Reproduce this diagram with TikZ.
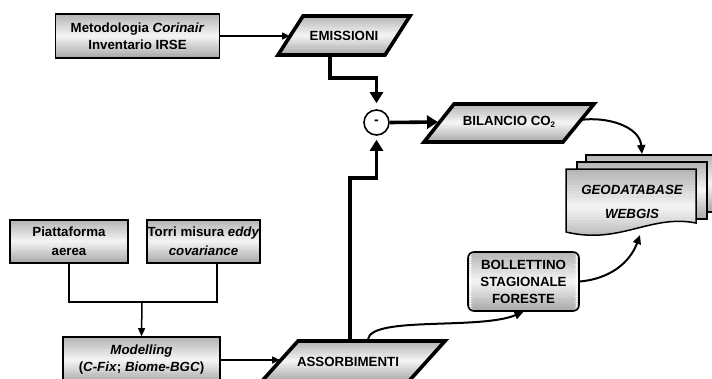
\documentclass[tikz,border=0pt]{standalone}
\usepackage{fontspec}
\setmainfont{Liberation Sans}
\usetikzlibrary{arrows.meta,calc}
\begin{document}
\begin{tikzpicture}[x=1pt,y=-1pt,
  grad/.style={path picture={
    \foreach \i in {0,...,23}{
      \pgfmathsetmacro{\tt}{(\i+0.5)/24}
      \pgfmathsetmacro{\pp}{\tt<0.5 ? 30-26*\tt/0.5 : 4+30*(\tt-0.5)/0.5}
      \fill[black!\pp]
        ($(path picture bounding box.north west)!{\i/24}!(path picture bounding box.south west)$)
        rectangle
        ($(path picture bounding box.north east)!{(\i+1.2)/24}!(path picture bounding box.south east)$);
    }}},
  txt/.style={font=\bfseries\fontsize{13.3}{16.5}\selectfont, align=center, inner sep=0pt},
  box/.style={txt, draw=black, line width=1.6pt, grad},
  para/.style={draw=black, line width=3.6pt, line join=miter, grad},
  thinarrow/.style={line width=1.5pt, -{Triangle[length=8pt,width=7pt]}},
  thinline/.style={line width=1.5pt},
  thickarrow/.style={line width=3.6pt, -{Triangle[length=11pt,width=13pt]}},
  curvearrow/.style={line width=2pt, -{Triangle[length=9pt,width=8pt]}}]

\useasboundingbox (0,0) rectangle (712,378);
\clip (0,0) rectangle (712,378);

% ---- top left box
\node[box, minimum width=164pt, minimum height=44pt] (meto) at (137.5,36)
  {Metodologia \textit{Corinair}\\Inventario IRSE};

% ---- EMISSIONI
\draw[para] (303,16) -- (410,16) -- (385,55) -- (278,55) -- cycle;
\node[txt] (emi) at (344,36) {EMISSIONI};
\coordinate (emiW) at (290,36);
\coordinate (emiS) at (330,55);

% ---- minus circle
\node[draw, circle, line width=1.6pt, minimum size=25pt, inner sep=0pt, fill=white,
  font=\bfseries\fontsize{14}{14}\selectfont] (circ) at (376.5,122.5) {-};

% ---- BILANCIO
\draw[para] (454,104) -- (594,104) -- (563,142) -- (424,142) -- cycle;
\node[txt] (bil) at (509,122) {BILANCIO CO\raisebox{-0.35ex}{\fontsize{8}{8}\selectfont 2}};
\coordinate (bilW) at (438,122);
\coordinate (bilE) at (580,120);

% ---- GEODATABASE (multi document)
\draw[thinline, draw=black, grad] (586,155) rectangle (722,212);
\draw[thinline, draw=black, grad] (577,162) rectangle (707,219);
\draw[thinline, draw=black, grad] (566,169) -- (696,169) -- (696,223)
   .. controls (650,214) and (620,245) .. (566,232) -- cycle;
\node[txt, font=\bfseries\itshape\fontsize{13.3}{24}\selectfont] (geo) at (632,202)
  {GEODATABASE\\WEBGIS};
\coordinate (geoN) at (642,154);
\coordinate (geoS) at (640,235);

% ---- BOLLETTINO
\node[box, rounded corners=6pt, minimum width=111pt, minimum height=59pt,
  font=\bfseries\fontsize{13.3}{17}\selectfont] (bol) at (523.5,281.5)
  {BOLLETTINO\\STAGIONALE\\FORESTE};

% ---- ASSORBIMENTI
\draw[para] (298,341) -- (445,341) -- (409,381) -- (262,381) -- cycle;
\node[txt] (ass) at (348,362) {ASSORBIMENTI};
\coordinate (assW) at (280,360);
\coordinate (assN) at (350,341);
\coordinate (assN2) at (368,339);

% ---- bottom left boxes
\node[box, minimum width=118pt, minimum height=43pt, font=\bfseries\fontsize{13.3}{19}\selectfont]
  (piat) at (69,241.5) {Piattaforma\\aerea};
\node[box, minimum width=113pt, minimum height=43pt, font=\bfseries\fontsize{13.3}{19}\selectfont]
  (torri) at (203.5,241.5) {Torri misura \textit{eddy}\\\textit{covariance}};
\node[box, minimum width=157pt, minimum height=46pt, font=\bfseries\fontsize{13.3}{17}\selectfont]
  (mod) at (141.5,360) {\textit{Modelling}\\(\textit{C-Fix}; \textit{Biome-BGC})};

\coordinate (piatS) at (69,263);
\coordinate (torriS) at (217,263);
\coordinate (join) at (142,302);

% ---- connectors
\draw[thinarrow] (meto.east) -- (emiW);
\draw[thickarrow, shorten >=6pt] (emiS) -- (330,78) -| (circ.north);
\draw[thickarrow] (circ.east) -- (bilW);
\draw[thickarrow, shorten >=4pt] (assN) -- (350,178) -| (circ.south);
\draw[curvearrow] (bilE) to[out=8, in=95] (geoN);
\draw[curvearrow] (bol.east) to[out=5, in=-110] (geoS);
\draw[curvearrow] (assN2) .. controls (372,316) and (480,330) .. (bol.south);
\draw[thinline] (piatS) |- (join) -| (torriS);
\draw[thinarrow] (join) -- (mod.north);
\draw[thinarrow] (mod.east |- assW) -- (assW);
\end{tikzpicture}
\end{document}
